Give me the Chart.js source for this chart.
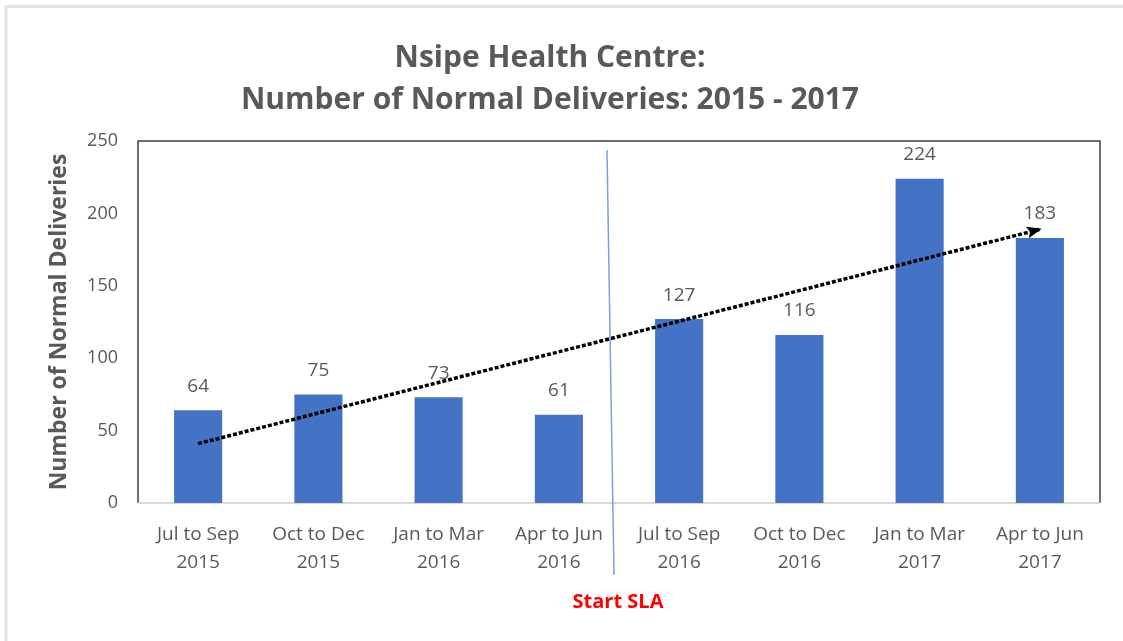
<!DOCTYPE html>
<html>
<head>
<meta charset="utf-8">
<script src="https://cdn.jsdelivr.net/npm/chart.js@4/dist/chart.umd.min.js"></script>
<style>
  html, body { margin: 0; padding: 0; background: #ffffff; }
  #c { display: block; }
</style>
</head>
<body>
<canvas id="c" width="1123" height="641"></canvas>
<script>
const categories = [
  ["Jul to Sep", "2015"],
  ["Oct to Dec", "2015"],
  ["Jan to Mar", "2016"],
  ["Apr to Jun", "2016"],
  ["Jul to Sep", "2016"],
  ["Oct to Dec", "2016"],
  ["Jan to Mar", "2017"],
  ["Apr to Jun", "2017"]
];
const deliveries = [64, 75, 73, 61, 127, 116, 224, 183];
// trend line end points
const trendEnds = [41, null, null, null, null, null, null, 189];
const titleLines = ["Nsipe Health Centre:", "Number of Normal Deliveries: 2015 - 2017"];
const yAxisTitle = "Number of Normal Deliveries";
const markerText = "Start SLA";
const markerAfterIndex = 3;

const FONT = "'Open Sans', 'Noto Sans', sans-serif";
const GREY = "#595959";

const framePlugin = {
  id: "frame",
  beforeDraw(chart) {
    const ctx = chart.ctx;
    ctx.save();
    ctx.fillStyle = "#ffffff";
    ctx.fillRect(0, 0, chart.width, chart.height);
    ctx.strokeStyle = "#e2e2e2";
    ctx.lineWidth = 3;
    ctx.beginPath();
    ctx.moveTo(6, chart.height);
    ctx.lineTo(6, 6.5);
    ctx.lineTo(chart.width, 6.5);
    ctx.stroke();
    ctx.restore();
  },
  beforeDatasetsDraw(chart) {
    const ctx = chart.ctx;
    const a = chart.chartArea;
    ctx.save();
    ctx.strokeStyle = "#404040";
    ctx.lineWidth = 1.5;
    ctx.beginPath();
    ctx.moveTo(a.left, a.bottom);
    ctx.lineTo(a.left, a.top);
    ctx.lineTo(a.right, a.top);
    ctx.lineTo(a.right, a.bottom);
    ctx.stroke();
    ctx.strokeStyle = "#d9d9d9";
    ctx.lineWidth = 2;
    ctx.beginPath();
    ctx.moveTo(a.left, a.bottom);
    ctx.lineTo(a.right, a.bottom);
    ctx.stroke();
    ctx.restore();
  },
  afterDatasetsDraw(chart) {
    const ctx = chart.ctx;
    const a = chart.chartArea;
    // value labels
    const barMeta = chart.getDatasetMeta(0);
    ctx.save();
    ctx.font = "19px " + FONT;
    ctx.fillStyle = GREY;
    ctx.textAlign = "center";
    ctx.textBaseline = "middle";
    barMeta.data.forEach((bar, i) => {
      ctx.fillText(String(deliveries[i]), bar.x, bar.y - 24);
    });
    ctx.restore();

    // arrow head on trend line
    const lineMeta = chart.getDatasetMeta(1);
    const p0 = lineMeta.data[0];
    const p1 = lineMeta.data[lineMeta.data.length - 1];
    const ang = Math.atan2(p1.y - p0.y, p1.x - p0.x);
    const len = 15, half = 6;
    ctx.save();
    ctx.fillStyle = "#000000";
    ctx.translate(p1.x, p1.y);
    ctx.rotate(ang);
    ctx.beginPath();
    ctx.moveTo(2, 0);
    ctx.lineTo(2 - len, -half);
    ctx.lineTo(2 - len + 3, 0);
    ctx.lineTo(2 - len, half);
    ctx.closePath();
    ctx.fill();
    ctx.restore();

    // start marker line
    const xs = chart.scales.x;
    const mx = xs.getPixelForValue(markerAfterIndex + 0.5);
    ctx.save();
    ctx.strokeStyle = "#7aa0e0";
    ctx.lineWidth = 1.5;
    ctx.beginPath();
    ctx.moveTo(mx - 12, a.top + 9);
    ctx.lineTo(mx - 5, 575);
    ctx.stroke();
    ctx.font = "bold 20px " + FONT;
    ctx.fillStyle = "#ff0000";
    ctx.textAlign = "center";
    ctx.textBaseline = "middle";
    ctx.fillText(markerText, mx - 1, 602);
    ctx.restore();
  }
};

new Chart(document.getElementById("c"), {
  data: {
    labels: categories,
    datasets: [
      {
        type: "bar",
        data: deliveries,
        backgroundColor: "#4472C4",
        borderWidth: 0,
        barPercentage: 0.4,
        categoryPercentage: 1.0,
        order: 2
      },
      {
        type: "line",
        data: trendEnds,
        spanGaps: true,
        borderColor: "#000000",
        borderWidth: 3.5,
        borderDash: [4, 2],
        pointRadius: 0,
        fill: false,
        order: 1
      }
    ]
  },
  options: {
    responsive: false,
    animation: false,
    events: [],
    layout: { padding: { top: 0, left: 0, right: 23, bottom: 0 } },
    plugins: {
      legend: { display: false },
      tooltip: { enabled: false },
      title: {
        display: true,
        text: titleLines,
        color: GREY,
        font: { family: FONT, size: 30, weight: "bold", lineHeight: 1.4 },
        padding: { top: 37, bottom: 20 }
      }
    },
    scales: {
      x: {
        type: "category",
        offset: true,
        grid: { display: false, drawTicks: false },
        border: { display: false },
        ticks: {
          color: GREY,
          font: { family: FONT, size: 19, lineHeight: 1.47 },
          padding: 18,
          maxRotation: 0,
          autoSkip: false
        },
        afterFit(s) { s.height = 138; }
      },
      y: {
        min: 0,
        max: 250,
        grid: { display: false, drawTicks: false },
        border: { display: false },
        ticks: {
          stepSize: 50,
          color: GREY,
          font: { family: FONT, size: 18 },
          padding: 20
        },
        title: {
          display: true,
          text: yAxisTitle,
          color: GREY,
          font: { family: FONT, size: 23, weight: "bold", lineHeight: 1.2 },
          padding: { top: 46, bottom: 0 }
        },
        afterFit(s) { s.width = 138; }
      }
    }
  },
  plugins: [framePlugin]
});
</script>
</body>
</html>
